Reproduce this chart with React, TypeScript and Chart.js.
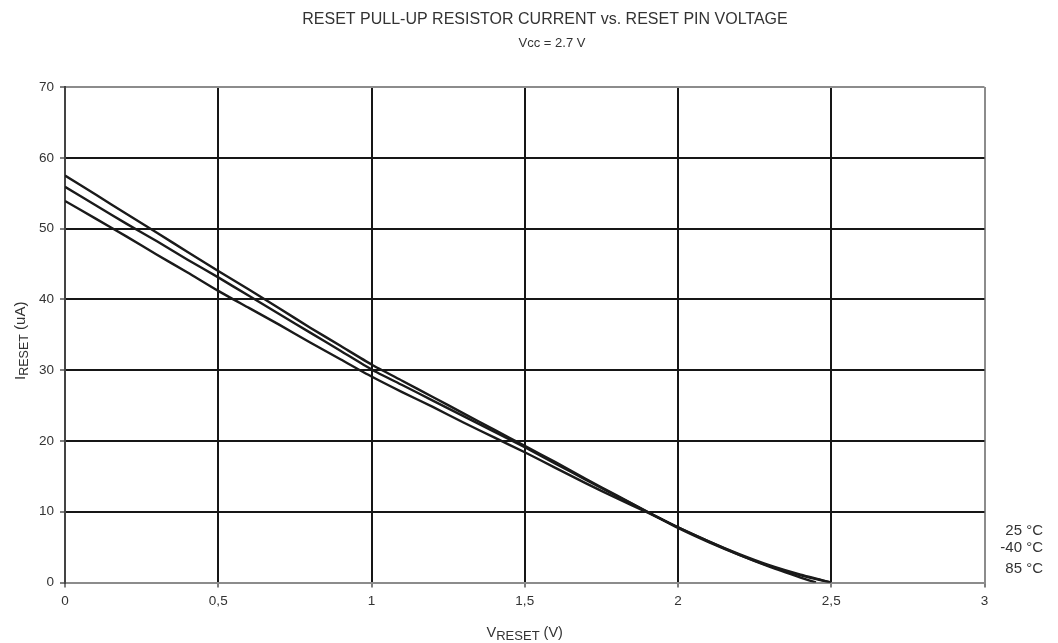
import React, { useEffect, useRef } from 'react';
import { Chart, registerables } from 'chart.js';

Chart.register(...registerables);

const FONT = "Arial, 'Liberation Sans', sans-serif";

const chartTitle = 'RESET PULL-UP RESISTOR CURRENT vs. RESET PIN VOLTAGE';
const chartSubtitle = 'Vcc = 2.7 V';

const seriesLabels = ['25 °C', '-40 °C', '85 °C'];

const vResetAB = [0, 0.1, 0.2, 0.3, 0.4, 0.5, 0.6, 0.7, 0.8, 0.9, 1.0, 1.1, 1.2, 1.3, 1.4, 1.5, 1.6, 1.7, 1.8, 1.9, 2.0, 2.1, 2.2, 2.3, 2.4, 2.5];
const vResetC = [0, 0.1, 0.2, 0.3, 0.4, 0.5, 0.6, 0.7, 0.8, 0.9, 1.0, 1.1, 1.2, 1.3, 1.4, 1.5, 1.6, 1.7, 1.8, 1.9, 2.0, 2.1, 2.2, 2.3, 2.4, 2.45];

const current25 = [57.5, 54.8, 52.1, 49.4, 46.7, 44.0, 41.4, 38.7, 36.0, 33.4, 30.8, 28.5, 26.2, 23.9, 21.6, 19.3, 17.0, 14.6, 12.3, 10.0, 7.8, 5.8, 4.0, 2.4, 1.1, 0];
const currentM40 = [55.9, 53.3, 50.7, 48.2, 45.6, 43.1, 40.5, 37.9, 35.3, 32.7, 30.1, 27.9, 25.7, 23.5, 21.3, 19.1, 16.8, 14.5, 12.2, 10.0, 7.7, 5.7, 3.9, 2.3, 1.0, 0];
const current85 = [53.9, 51.4, 48.9, 46.3, 43.8, 41.2, 38.8, 36.4, 33.9, 31.5, 29.1, 26.9, 24.8, 22.6, 20.5, 18.4, 16.2, 14.0, 11.9, 9.9, 7.8, 5.8, 3.9, 2.2, 0.7, 0];

const xMin = 0;
const xMax = 3;
const xStep = 0.5;
const yMin = 0;
const yMax = 70;
const yStep = 10;

const GRID = '#161616';
const FRAME = '#8c8c8c';
const TEXT = '#333333';

function toPoints(xs: number[], ys: number[]) {
  return xs.map((x, i) => ({ x, y: ys[i] }));
}

function drawSubText(
  ctx: CanvasRenderingContext2D,
  main: string,
  sub: string,
  rest: string,
  cx: number,
  baseline: number,
  mainSize: number,
  subSize: number,
  subDrop: number
) {
  ctx.font = `${mainSize}px ${FONT}`;
  const w1 = ctx.measureText(main).width;
  const w3 = ctx.measureText(rest).width;
  ctx.font = `${subSize}px ${FONT}`;
  const w2 = ctx.measureText(sub).width;
  let x = cx - (w1 + w2 + w3) / 2;
  ctx.textAlign = 'left';
  ctx.textBaseline = 'alphabetic';
  ctx.font = `${mainSize}px ${FONT}`;
  ctx.fillText(main, x, baseline);
  x += w1;
  ctx.font = `${subSize}px ${FONT}`;
  ctx.fillText(sub, x, baseline + subDrop);
  x += w2;
  ctx.font = `${mainSize}px ${FONT}`;
  ctx.fillText(rest, x, baseline);
}

const textPlugin = {
  id: 'textPlugin',
  afterDraw(chart: any) {
    const { ctx, chartArea } = chart;
    ctx.save();
    ctx.fillStyle = TEXT;
    ctx.textAlign = 'center';
    ctx.textBaseline = 'alphabetic';
    ctx.font = `16px ${FONT}`;
    ctx.fillText(chartTitle, 545, 24);
    ctx.font = `13px ${FONT}`;
    ctx.fillText(chartSubtitle, 552, 46.5);

    // X axis title
    const cx = (chartArea.left + chartArea.right) / 2;
    drawSubText(ctx, 'V', 'RESET', ' (V)', cx, 636.5, 14.5, 13, 3);

    // Y axis title
    const cy = (chartArea.top + chartArea.bottom) / 2 + 6;
    ctx.save();
    ctx.translate(25, cy);
    ctx.rotate(-Math.PI / 2);
    drawSubText(ctx, 'I', 'RESET', ' (uA)', 0, 0, 15, 12.5, 3);
    ctx.restore();

    // Series labels at right
    const baselines = [535, 551.5, 573];
    ctx.textAlign = 'right';
    ctx.font = `15px ${FONT}`;
    chart.data.datasets.forEach((ds: any, i: number) => {
      ctx.fillText(ds.label, 1043, baselines[i]);
    });
    ctx.restore();
  },
};

export default function App() {
  const canvasRef = useRef<HTMLCanvasElement | null>(null);

  useEffect(() => {
    if (!canvasRef.current) return;
    const lineStyle = {
      showLine: true,
      borderColor: '#1a1a1a',
      backgroundColor: '#1a1a1a',
      borderWidth: 2.4,
      pointRadius: 0,
      pointHoverRadius: 0,
      tension: 0.2,
      fill: false,
    };
    const chart = new Chart(canvasRef.current, {
      type: 'scatter',
      data: {
        datasets: [
          { label: seriesLabels[0], data: toPoints(vResetAB, current25), ...lineStyle },
          { label: seriesLabels[1], data: toPoints(vResetAB, currentM40), ...lineStyle },
          { label: seriesLabels[2], data: toPoints(vResetC, current85), ...lineStyle },
        ],
      },
      options: {
        responsive: false,
        animation: false,
        layout: { padding: { left: 0, top: 87, right: 73.5, bottom: 0.5 } },
        plugins: {
          legend: { display: false },
          title: { display: false },
          tooltip: { enabled: false },
        },
        scales: {
          x: {
            type: 'linear',
            min: xMin,
            max: xMax,
            afterFit: (scale: any) => {
              scale.height = 60;
            },
            ticks: {
              stepSize: xStep,
              padding: 6,
              color: TEXT,
              font: { family: FONT, size: 13.5 },
              callback: (v: any) => String(v).replace('.', ','),
            },
            grid: {
              color: (c: any) => (c.tick && (c.tick.value === xMax) ? FRAME : GRID),
              lineWidth: 2,
              drawTicks: true,
              tickLength: 5,
              tickColor: '#555',
              tickWidth: 1.5,
            },
            border: { display: true, color: FRAME, width: 2 },
          },
          y: {
            type: 'linear',
            min: yMin,
            max: yMax,
            afterFit: (scale: any) => {
              scale.width = 65;
            },
            ticks: {
              stepSize: yStep,
              padding: 6,
              color: TEXT,
              font: { family: FONT, size: 13.5 },
            },
            grid: {
              color: (c: any) => (c.tick && (c.tick.value === yMax || c.tick.value === yMin) ? FRAME : GRID),
              lineWidth: 2,
              drawTicks: true,
              tickLength: 5,
              tickColor: '#555',
              tickWidth: 1.5,
            },
            border: { display: true, color: '#444', width: 2 },
          },
        },
      },
      plugins: [textPlugin],
    } as any);
    return () => chart.destroy();
  }, []);

  return (
    <div style={{ position: 'fixed', left: 0, top: 0, width: 1058, height: 643, background: '#fff' }}>
      <canvas ref={canvasRef} width={1058} height={643} style={{ width: 1058, height: 643 }} />
    </div>
  );
}
